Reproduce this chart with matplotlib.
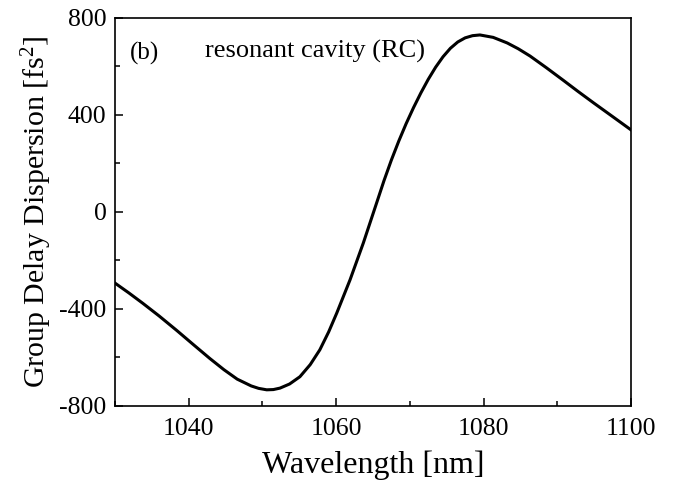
import matplotlib
matplotlib.use('Agg')
import matplotlib.pyplot as plt
from matplotlib.ticker import MultipleLocator

plt.rcParams['font.family'] = ['Liberation Serif', 'DejaVu Serif']
plt.rcParams['mathtext.fontset'] = 'custom'
plt.rcParams['mathtext.rm'] = 'Liberation Serif'
plt.rcParams['mathtext.it'] = 'Liberation Serif:italic'
plt.rcParams['axes.unicode_minus'] = False

# values (wavelength nm, GDD fs^2)
wavelength = [1030.0, 1031.9, 1033.8, 1036.0, 1038.4, 1040.6, 1042.9, 1044.8,
              1046.6, 1048.5, 1049.5, 1050.6, 1051.5, 1052.4, 1053.7, 1055.1,
              1056.5, 1057.8, 1059.0, 1060.1, 1061.9, 1063.7, 1065.5, 1066.5,
              1067.5, 1068.5, 1069.5, 1070.5, 1071.5, 1072.5, 1073.5, 1074.5,
              1075.5, 1076.5, 1077.5, 1078.5, 1079.5, 1081.3, 1083.2, 1084.7,
              1086.3, 1088.5, 1090.8, 1092.8, 1094.9, 1097.5, 1100.0]
gdd = [-293, -334, -377, -429, -489, -546, -605, -651,
       -690, -718, -728, -734, -733, -727, -710, -680,
       -630, -569, -495, -417, -280, -128, 37, 129,
       214, 292, 364, 430, 491, 547, 597, 640,
       675, 701, 718, 727, 730, 720, 697, 673,
       643, 595, 543, 497, 450, 393, 338]

xticks = [1040, 1060, 1080, 1100]
yticks = [-800, -400, 0, 400, 800]

fig = plt.figure(figsize=(6.75, 4.86), dpi=100)
ax = fig.add_axes([0.170, 0.165, 0.765, 0.798])

ax.plot(wavelength, gdd, color='black', linewidth=2.2)

ax.set_xlim(1030, 1100)
ax.set_ylim(-800, 800)
ax.set_xticks(xticks)
ax.set_yticks(yticks)
ax.xaxis.set_minor_locator(MultipleLocator(10))
ax.yaxis.set_minor_locator(MultipleLocator(200))
ax.tick_params(which='both', direction='in', width=1.1, labelsize=18.5)
ax.tick_params(which='major', length=6, pad=6)
ax.tick_params(axis='x', which='major', pad=9)
ax.tick_params(which='minor', length=3.5)
for s in ax.spines.values():
    s.set_linewidth(1.2)

ax.set_xlabel('Wavelength [nm]', fontsize=23, labelpad=7)
ax.set_ylabel('Group Delay Dispersion [fs$^2$]', fontsize=21.5, labelpad=4)

ax.text(0.029, 0.892, '(b)', transform=ax.transAxes, fontsize=18, va='baseline')
ax.text(0.174, 0.899, 'resonant cavity (RC)', transform=ax.transAxes,
        fontsize=19, va='baseline')

fig.savefig('out.png', dpi=100)
